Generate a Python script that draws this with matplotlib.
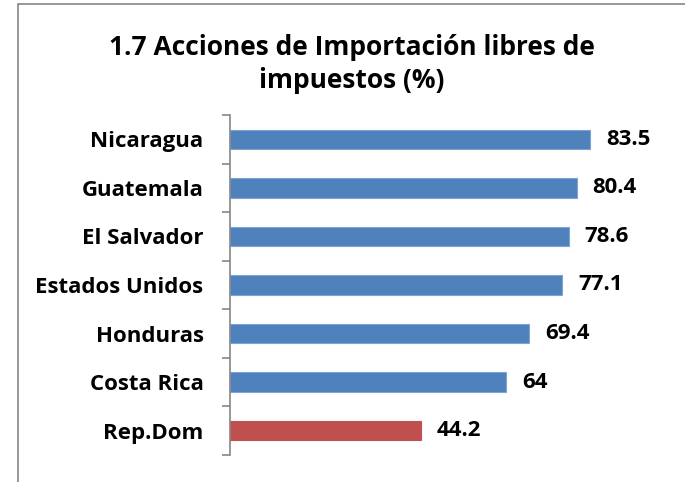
## horizontal bar chart: duty-free import lines by country
import matplotlib
matplotlib.use('Agg')
import matplotlib.pyplot as plt
from matplotlib.patches import Rectangle

plt.rcParams['font.family'] = ['Open Sans', 'DejaVu Sans']
plt.rcParams['font.weight'] = 'bold'

# data
countries = ['Nicaragua', 'Guatemala', 'El Salvador', 'Estados Unidos',
             'Honduras', 'Costa Rica', 'Rep.Dom']
values = [83.5, 80.4, 78.6, 77.1, 69.4, 64, 44.2]
value_labels = ['83.5', '80.4', '78.6', '77.1', '69.4', '64', '44.2']
bar_colors = ['#4F81BD'] * 6 + ['#C0504D']
title = '1.7 Acciones de Importación libres de\nimpuestos (%)'

fig = plt.figure(figsize=(6.85, 4.82), dpi=100)
fig.patch.set_facecolor('white')

# chart frame (only left and top edges show in the crop)
frame = Rectangle((18/685, -0.2), 1.2, 1.2 - 4/482, transform=fig.transFigure,
                  fill=False, edgecolor='#868686', linewidth=1.2)
fig.patches.append(frame)

ax = fig.add_axes([230/685, 1 - 455/482, 431/685, 340/482])
pos = list(range(len(countries)))
bars = ax.barh(pos, values, height=0.4, color=bar_colors,
               edgecolor=['#7FA3D3'] * 6 + ['#C0504D'], linewidth=0.8)

ax.set_xlim(0, 100)
ax.set_ylim(len(countries) - 0.5, -0.5)
ax.set_yticks(pos)
ax.set_yticklabels(countries, fontsize=16, fontweight='bold')
ax.set_yticks([p - 0.5 for p in pos] + [len(pos) - 0.5], minor=True)
ax.tick_params(axis='y', which='major', length=0, pad=19)
ax.tick_params(axis='y', which='minor', length=6, width=1.2, color='#868686')
ax.xaxis.set_visible(False)
for s in ['top', 'right', 'bottom']:
    ax.spines[s].set_visible(False)
ax.spines['left'].set_color('#868686')
ax.spines['left'].set_linewidth(1.2)

ax.bar_label(bars, labels=value_labels, padding=11.5, fontsize=16,
             fontweight='bold')

fig.text(352/685, 1 - 64/482, title, ha='center', va='center',
         fontsize=19, fontweight='bold', linespacing=1.25)

plt.savefig('out.png', dpi=100)
